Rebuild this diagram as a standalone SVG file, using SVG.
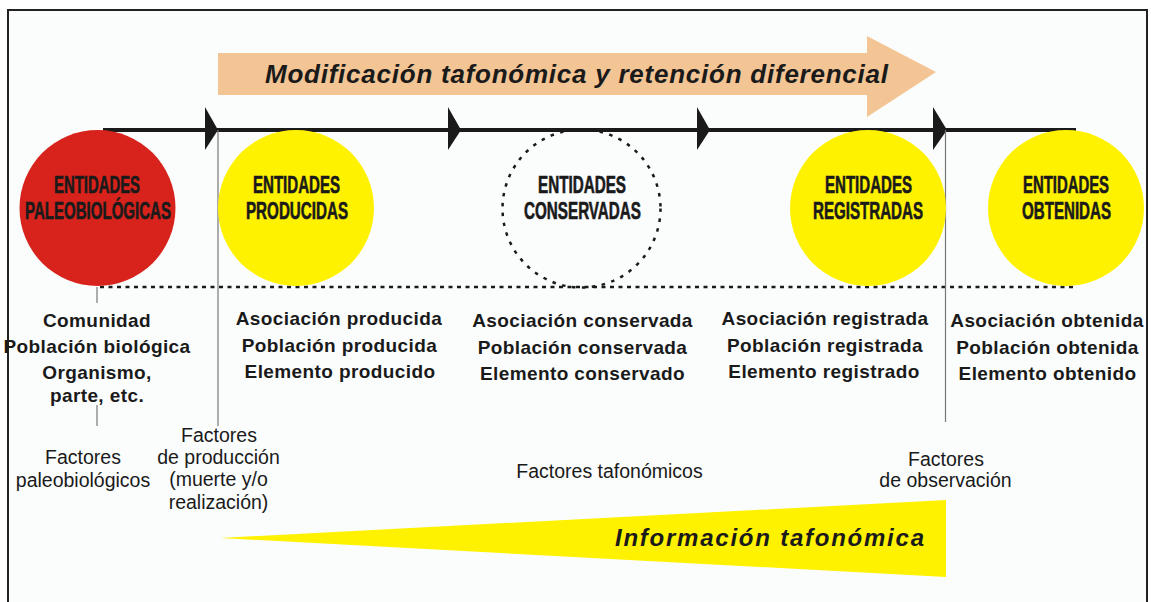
<svg xmlns="http://www.w3.org/2000/svg" width="1151" height="602" viewBox="0 0 1151 602">
<style>
.lab{font-family:"Liberation Sans Narrow","Liberation Sans",Arial,sans-serif;font-weight:bold;font-size:23px;fill:#1a1a1a;stroke:#1a1a1a;stroke-width:0.6;text-anchor:middle}
.lst{font-family:"Liberation Sans",Arial,sans-serif;font-weight:bold;font-size:19px;letter-spacing:0.4px;fill:#1a1a1a;text-anchor:middle}
.fac{font-family:"Liberation Sans",Arial,sans-serif;font-size:19.5px;fill:#1a1a1a;text-anchor:middle}
.big{font-family:"Liberation Sans",Arial,sans-serif;font-weight:bold;font-style:italic;fill:#1a1a1a}
.tick{stroke:#777;stroke-width:1.2;fill:none}
.tri{fill:#1a1a1a}
.yel{fill:#FFF200}
</style>
<rect x="0" y="0" width="1151" height="602" fill="#ffffff"/>
<rect x="8" y="10" width="1139" height="600" fill="#FBFDFD" stroke="#222" stroke-width="2"/>

<g id="banner-top">
<polygon points="218,53 867,53 867,36 936,72 867,117 867,95 218,95" fill="#F3C494"/>
<text class="big" x="265" y="83" font-size="26" textLength="623" lengthAdjust="spacing">Modificación tafonómica y retención diferencial</text>
</g>

<g id="banner-bottom">
<polygon points="220,538 946,500 946,577" class="yel"/>
<text class="big" x="615" y="545.5" font-size="24" textLength="309" lengthAdjust="spacing">Información tafonómica</text>
</g>

<g id="connectors">
<line x1="103" y1="130" x2="1076" y2="130" stroke="#1a1a1a" stroke-width="4"/>
<polygon class="tri" points="205,107 218,130 205,150"/>
<polygon class="tri" points="448,107 461,130 448,150"/>
<polygon class="tri" points="697,107 710,130 697,150"/>
<polygon class="tri" points="933,107 947,130 933,150"/>
<line x1="100" y1="287" x2="1076" y2="287" stroke="#1a1a1a" stroke-width="2.5" stroke-dasharray="4 4.5"/>
<line class="tick" x1="97" y1="287" x2="97" y2="303"/>
<line class="tick" x1="97" y1="405" x2="97" y2="426"/>
<line class="tick" x1="218" y1="130" x2="218" y2="426"/>
<line class="tick" x1="945.5" y1="130" x2="945.5" y2="422"/>
</g>

<g id="node-paleobiologicas">
<circle cx="97.5" cy="208" r="78" fill="#D7231B"/>
<text class="lab" x="97" y="193" textLength="86" lengthAdjust="spacingAndGlyphs">ENTIDADES</text>
<text class="lab" x="98" y="218.5" textLength="146" lengthAdjust="spacingAndGlyphs">PALEOBIOLÓGICAS</text>
<text class="lst" x="97" y="327">Comunidad</text>
<text class="lst" x="97" y="353">Población biológica</text>
<text class="lst" x="97" y="379">Organismo,</text>
<text class="lst" x="97" y="402">parte, etc.</text>
<text class="fac" x="83" y="464">Factores</text>
<text class="fac" x="83" y="487">paleobiológicos</text>
</g>

<g id="node-producidas">
<circle cx="296" cy="208" r="78" class="yel"/>
<text class="lab" x="296.5" y="193" textLength="87" lengthAdjust="spacingAndGlyphs">ENTIDADES</text>
<text class="lab" x="297" y="218.5" textLength="102" lengthAdjust="spacingAndGlyphs">PRODUCIDAS</text>
<text class="lst" x="339" y="325">Asociación producida</text>
<text class="lst" x="339.5" y="352">Población producida</text>
<text class="lst" x="340" y="378">Elemento producido</text>
<text class="fac" x="219" y="442">Factores</text>
<text class="fac" x="218.5" y="464">de producción</text>
<text class="fac" x="218.5" y="486">(muerte y/o</text>
<text class="fac" x="218.5" y="509">realización)</text>
</g>

<g id="node-conservadas">
<circle cx="581.5" cy="208.5" r="79" fill="none" stroke="#1a1a1a" stroke-width="2.5" stroke-dasharray="3.5 6.5"/>
<text class="lab" x="582" y="193" textLength="88" lengthAdjust="spacingAndGlyphs">ENTIDADES</text>
<text class="lab" x="582.5" y="218.5" textLength="117" lengthAdjust="spacingAndGlyphs">CONSERVADAS</text>
<text class="lst" x="582.5" y="327">Asociación conservada</text>
<text class="lst" x="582.5" y="354">Población conservada</text>
<text class="lst" x="582.5" y="380">Elemento conservado</text>
<text class="fac" x="609.5" y="478">Factores tafonómicos</text>
</g>

<g id="node-registradas">
<circle cx="868" cy="208" r="78" class="yel"/>
<text class="lab" x="868.5" y="193" textLength="87" lengthAdjust="spacingAndGlyphs">ENTIDADES</text>
<text class="lab" x="868" y="218.5" textLength="110" lengthAdjust="spacingAndGlyphs">REGISTRADAS</text>
<text class="lst" x="825" y="325">Asociación registrada</text>
<text class="lst" x="825" y="352">Población registrada</text>
<text class="lst" x="824" y="378">Elemento registrado</text>
<text class="fac" x="946" y="466">Factores</text>
<text class="fac" x="945.5" y="487">de observación</text>
</g>

<g id="node-obtenidas">
<circle cx="1066" cy="208" r="78" class="yel"/>
<text class="lab" x="1066" y="193" textLength="86" lengthAdjust="spacingAndGlyphs">ENTIDADES</text>
<text class="lab" x="1066.5" y="218.5" textLength="89" lengthAdjust="spacingAndGlyphs">OBTENIDAS</text>
<text class="lst" x="1047" y="327">Asociación obtenida</text>
<text class="lst" x="1047.5" y="354">Población obtenida</text>
<text class="lst" x="1047.5" y="380">Elemento obtenido</text>
</g>
</svg>
